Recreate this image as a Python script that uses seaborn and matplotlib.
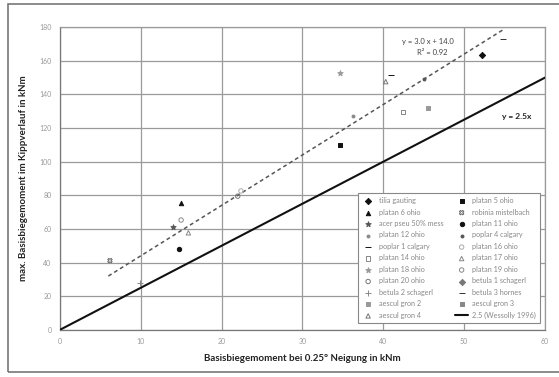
import matplotlib
matplotlib.use("Agg")
import matplotlib.pyplot as plt
import seaborn as sns
import pandas as pd
from matplotlib.patches import Rectangle

sns.set_style("whitegrid")
plt.rcParams['font.family'] = ['Lato', 'DejaVu Sans']

# ---- data ----
series_names = [
    "tilia gauting", "platan 6 ohio", "acer pseu 50% mess", "platan 12 ohio",
    "poplar 1 calgary", "platan 14 ohio", "platan 18 ohio", "platan 20 ohio",
    "betula 2 schagerl", "aescul gron 2", "aescul gron 4",
    "platan 5 ohio", "robinia mistelbach", "platan 11 ohio", "poplar 4 calgary",
    "platan 16 ohio", "platan 17 ohio", "platan 19 ohio", "betula 1 schagerl",
    "betula 3 hornes", "aescul gron 3",
]
x_vals = [52.2, 15.0, 14.0, 36.2, 41.0, 42.4, 34.7, 22.0, 9.9, 45.5, 40.3,
          34.6, 6.2, 14.8, 45.0, 22.4, 15.9, 15.0, None, 54.8, None]
y_vals = [163.6, 75.6, 61.3, 127.3, 151.6, 129.4, 152.8, 79.5, 27.9, 132.1, 147.6,
          109.9, 41.2, 47.8, 149.0, 82.6, 57.7, 65.3, None, 173.0, None]
markers = ["D", "^", "*", ".", "_", "s", "*", "o", "+", "s", "^",
           "s", "X", "o", ".", "o", "^", "o", "D", "_", "s"]
m_colors = ["#111111", "#111111", "#555555", "#888888", "#111111", "#888888", "#999999",
            "#777777", "#888888", "#999999", "#777777",
            "#111111", "#666666", "#111111", "#555555", "#aaaaaa", "#888888", "#888888",
            "#777777", "#333333", "#888888"]
m_filled = [True, True, True, True, True, False, True, False, True, True, False,
            True, False, True, True, False, False, False, True, True, True]

fit_x = [6.0, 55.0]
fit_slope, fit_intercept = 3.0, 14.0
wess_x = [0.0, 60.0]
wess_factor = 2.5

x_ticks = [0, 10, 20, 30, 40, 50, 60]
y_ticks = [0, 20, 40, 60, 80, 100, 120, 140, 160, 180]

# ---- figure ----
fig = plt.figure(figsize=(5.59, 3.77), dpi=100)
ax = fig.add_axes([0.107, 0.125, 0.868, 0.803])
fig.patches.append(Rectangle((8/559, 5/377), 1.2, 1 - 9/377, transform=fig.transFigure,
                             fill=False, edgecolor="#777777", linewidth=1.2))

handles = []
for i, name in enumerate(series_names):
    df = pd.DataFrame({"x": [x_vals[i]] if x_vals[i] is not None else [],
                       "y": [y_vals[i]] if y_vals[i] is not None else []})
    face = m_colors[i] if m_filled[i] else "none"
    sz = 10
    if markers[i] == ".":
        sz = 18
    if markers[i] in ("_", "+", "*"):
        sz = 16
    h = ax.scatter([], [], marker=markers[i], s=sz, facecolors=face,
                   edgecolors=m_colors[i], linewidths=0.7, label=name)
    if len(df):
        sns.scatterplot(data=df, x="x", y="y", ax=ax, marker=markers[i], s=sz,
                        color=m_colors[i] if m_filled[i] else "none",
                        edgecolor=m_colors[i], linewidth=0.7, legend=False, zorder=4)
    handles.append(h)

fit_df = pd.DataFrame({"x": fit_x, "y": [fit_slope * v + fit_intercept for v in fit_x]})
sns.lineplot(data=fit_df, x="x", y="y", ax=ax, color="#555555", linestyle=(0, (2.5, 2)),
             linewidth=1.1, zorder=3)
wess_df = pd.DataFrame({"x": wess_x, "y": [wess_factor * v for v in wess_x]})
wline, = ax.plot(wess_df["x"], wess_df["y"], color="#111111", linewidth=1.5, zorder=3,
                 label="2.5 (Wessolly 1996)")
handles.append(wline)

ax.set_xlim(0, 60)
ax.set_ylim(0, 180)
ax.set_xticks(x_ticks)
ax.set_yticks(y_ticks)
ax.tick_params(axis="both", labelsize=5, colors="#999999", length=0, pad=6)
ax.grid(True, color="#9a9a9a", linewidth=0.9)
for s in ax.spines.values():
    s.set_color("#9a9a9a")
    s.set_linewidth(0.9)
ax.spines["left"].set_color("#777777")
ax.spines["bottom"].set_color("#777777")

ax.set_xlabel("Basisbiegemoment bei 0.25° Neigung in kNm", fontsize=7, fontweight="bold",
              color="#222222", labelpad=6)
ax.set_ylabel("max. Basisbiegemoment im Kippverlauf in kNm", fontsize=7, fontweight="bold",
              color="#222222", labelpad=8)

ax.text(45.5, 171.5, "y = 3.0 x + 14.0", fontsize=5.5, color="#444444", ha="center", va="center")
ax.text(46.0, 164.8, "R² = 0.92", fontsize=5.5, color="#444444", ha="center", va="center")
ax.text(56.5, 127, "y = 2.5x", fontsize=6, fontweight="bold", color="#222222",
        ha="center", va="center")

leg = ax.legend(handles=handles, labels=series_names + ["2.5 (Wessolly 1996)"], ncol=2,
                loc="lower right", bbox_to_anchor=(0.997, 0.012), fontsize=5.2,
                frameon=True, fancybox=False, edgecolor="#888888", framealpha=1,
                handlelength=1.8, handletextpad=0.6, columnspacing=1.6,
                labelspacing=0.62, borderpad=0.5, labelcolor="#888888")
leg.get_frame().set_linewidth(0.8)
leg.set_zorder(5)

fig.savefig("out.png", dpi=100, facecolor="white")
